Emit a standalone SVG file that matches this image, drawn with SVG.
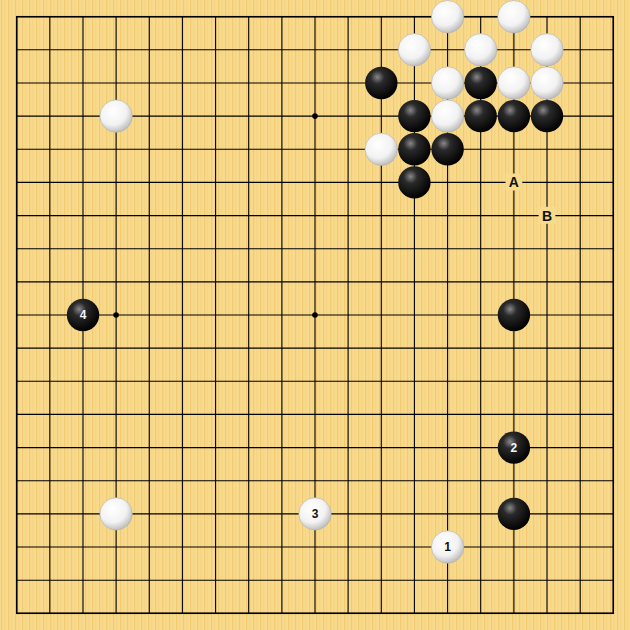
<svg xmlns="http://www.w3.org/2000/svg" width="630" height="630" viewBox="0 0 630 630">
<defs>
<pattern id="wood" width="7" height="630" patternUnits="userSpaceOnUse">
<rect width="7" height="630" fill="#f8da8c"/>
<rect x="1" width="1.2" height="630" fill="#efc56c" opacity="0.8"/>
<rect x="4.5" width="0.8" height="630" fill="#f2cd78" opacity="0.7"/>
</pattern>
<radialGradient id="gb" cx="0.38" cy="0.32" r="0.7">
<stop offset="0" stop-color="#888"/>
<stop offset="0.3" stop-color="#2a2a2a"/>
<stop offset="1" stop-color="#000"/>
</radialGradient>
<radialGradient id="gw" cx="0.4" cy="0.35" r="0.7">
<stop offset="0" stop-color="#fff"/>
<stop offset="0.6" stop-color="#f2f2f2"/>
<stop offset="1" stop-color="#b5b5b5"/>
</radialGradient>
<style>
.b{fill:url(#gb)}
.w{fill:url(#gw);stroke:#b0b0b0;stroke-width:0.6}
.grid{stroke:#000;stroke-width:1.1;fill:none}
.lbl{font-family:"Liberation Sans",Arial,sans-serif;font-weight:bold;font-size:14px;text-anchor:middle;fill:#111}
.nw{font-family:"Liberation Sans",Arial,sans-serif;font-weight:bold;font-size:12px;text-anchor:middle;fill:#f4f4ff}
.nb{font-family:"Liberation Sans",Arial,sans-serif;font-weight:bold;font-size:12px;text-anchor:middle;fill:#111}
</style>
</defs>
<rect width="630" height="630" fill="url(#wood)"/>
<g id="grid" class="grid">
<path d="M16.7 16.7V613.3M49.8 16.7V613.3M83 16.7V613.3M116.1 16.7V613.3M149.3 16.7V613.3M182.4 16.7V613.3M215.6 16.7V613.3M248.7 16.7V613.3M281.9 16.7V613.3M315 16.7V613.3M348.1 16.7V613.3M381.3 16.7V613.3M414.4 16.7V613.3M447.6 16.7V613.3M480.7 16.7V613.3M513.9 16.7V613.3M547 16.7V613.3M580.2 16.7V613.3M613.3 16.7V613.3"/>
<path d="M16.7 16.7H613.3M16.7 49.8H613.3M16.7 83H613.3M16.7 116.1H613.3M16.7 149.3H613.3M16.7 182.4H613.3M16.7 215.6H613.3M16.7 248.7H613.3M16.7 281.9H613.3M16.7 315H613.3M16.7 348.1H613.3M16.7 381.3H613.3M16.7 414.4H613.3M16.7 447.6H613.3M16.7 480.7H613.3M16.7 513.9H613.3M16.7 547H613.3M16.7 580.2H613.3M16.7 613.3H613.3"/>
<rect x="16.7" y="16.7" width="596.6" height="596.6" stroke-width="1.5"/>
</g>
<g id="hoshi" fill="#000">
<circle cx="315" cy="116.1" r="2.8"/>
<circle cx="116.1" cy="315" r="2.8"/>
<circle cx="315" cy="315" r="2.8"/>
</g>
<g id="stones">
<circle id="w-13-0" class="w" cx="447.6" cy="16.7" r="16.2"/>
<circle id="w-15-0" class="w" cx="513.9" cy="16.7" r="16.2"/>
<circle id="w-12-1" class="w" cx="414.4" cy="49.8" r="16.2"/>
<circle id="w-14-1" class="w" cx="480.7" cy="49.8" r="16.2"/>
<circle id="w-16-1" class="w" cx="547" cy="49.8" r="16.2"/>
<circle id="b-11-2" class="b" cx="381.3" cy="83" r="16.2"/>
<circle id="w-13-2" class="w" cx="447.6" cy="83" r="16.2"/>
<circle id="b-14-2" class="b" cx="480.7" cy="83" r="16.2"/>
<circle id="w-15-2" class="w" cx="513.9" cy="83" r="16.2"/>
<circle id="w-16-2" class="w" cx="547" cy="83" r="16.2"/>
<circle id="w-3-3" class="w" cx="116.1" cy="116.1" r="16.2"/>
<circle id="b-12-3" class="b" cx="414.4" cy="116.1" r="16.2"/>
<circle id="w-13-3" class="w" cx="447.6" cy="116.1" r="16.2"/>
<circle id="b-14-3" class="b" cx="480.7" cy="116.1" r="16.2"/>
<circle id="b-15-3" class="b" cx="513.9" cy="116.1" r="16.2"/>
<circle id="b-16-3" class="b" cx="547" cy="116.1" r="16.2"/>
<circle id="w-11-4" class="w" cx="381.3" cy="149.3" r="16.2"/>
<circle id="b-12-4" class="b" cx="414.4" cy="149.3" r="16.2"/>
<circle id="b-13-4" class="b" cx="447.6" cy="149.3" r="16.2"/>
<circle id="b-12-5" class="b" cx="414.4" cy="182.4" r="16.2"/>
<circle id="b-15-9" class="b" cx="513.9" cy="315" r="16.2"/>
<circle id="w-3-15" class="w" cx="116.1" cy="513.9" r="16.2"/>
<circle id="b-15-15" class="b" cx="513.9" cy="513.9" r="16.2"/>
</g>
<g id="move1"><circle class="w" cx="447.6" cy="547" r="16.2"/><text class="nb" x="447.6" y="551.3">1</text></g>
<g id="move2"><circle class="b" cx="513.9" cy="447.6" r="16.2"/><text class="nw" x="513.9" y="451.9">2</text></g>
<g id="move3"><circle class="w" cx="315" cy="513.9" r="16.2"/><text class="nb" x="315" y="518.2">3</text></g>
<g id="move4"><circle class="b" cx="83" cy="315" r="16.2"/><text class="nw" x="83" y="319.3">4</text></g>
<g id="labelA"><rect x="505.5" y="173.5" width="16.8" height="17" fill="#f8da8c"/><text class="lbl" x="513.9" y="187.4">A</text></g>
<g id="labelB"><rect x="538.6" y="206.8" width="16.8" height="17" fill="#f8da8c"/><text class="lbl" x="547" y="220.6">B</text></g>
</svg>
